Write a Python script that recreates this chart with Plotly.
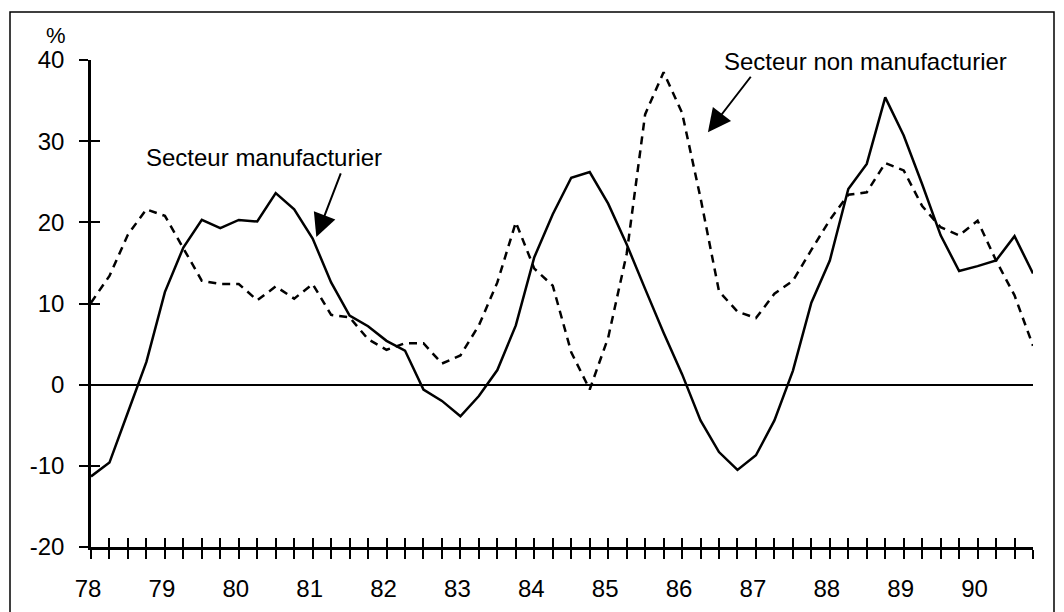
import plotly.graph_objects as go

# quarterly observations, 1978Q1 .. 1990Q4
quarters = [78 + q / 4 for q in range(52)]
year_labels = ["78", "79", "80", "81", "82", "83", "84", "85", "86", "87", "88", "89", "90"]

# Secteur manufacturier (solid)
manuf = [-11.3, -9.6, -3.4, 2.8, 11.4, 16.9, 20.3, 19.3, 20.3, 20.1,
         23.6, 21.6, 18.0, 12.6, 8.5, 7.2, 5.4, 4.2, -0.6, -2.0,
         -3.9, -1.4, 1.8, 7.3, 15.7, 21.0, 25.5, 26.2, 22.3, 17.3,
         11.8, 6.4, 1.3, -4.4, -8.3, -10.5, -8.7, -4.4, 1.7, 10.1,
         15.3, 24.1, 27.2, 35.4, 30.7, 24.7, 18.4, 14.0, 14.6, 15.3,
         18.3, 13.7]

# Secteur non manufacturier (dashed)
non_manuf = [10.1, 13.4, 18.5, 21.6, 20.8, 16.8, 12.8, 12.4, 12.4, 10.4,
             12.1, 10.6, 12.4, 8.6, 8.3, 5.6, 4.3, 5.1, 5.1, 2.6,
             3.6, 7.3, 12.6, 20.0, 14.3, 12.2, 4.0, -0.6, 5.8, 16.1,
             33.3, 38.5, 33.5, 23.0, 11.5, 9.0, 8.2, 11.2, 12.8, 16.6,
             20.3, 23.4, 23.7, 27.3, 26.4, 22.0, 19.4, 18.4, 20.2, 15.3,
             11.0, 4.8]

y_ticks = [-20, -10, 0, 10, 20, 30, 40]
y_tick_text = ["-20", "-10", "0", "10", "20", "30", "40"]

tick_text = [year_labels[i // 4] if i % 4 == 0 else "" for i in range(len(quarters))]

FONT = "Arial, Liberation Sans, sans-serif"

# the page adds an 8px body margin, so the plot box is placed 8px up/left
L, T, PW, PH = 83, 52, 942, 487


def px_x(px):
    # page pixel -> paper x
    return (px - 8 - L) / PW


def px_y(px):
    # page pixel -> paper y
    return (T + PH - (px - 8)) / PH


fig = go.Figure()
fig.add_trace(go.Scatter(x=quarters, y=manuf, mode="lines",
                         line=dict(color="black", width=2.5),
                         name="Secteur manufacturier", hoverinfo="skip"))
fig.add_trace(go.Scatter(x=quarters, y=non_manuf, mode="lines",
                         line=dict(color="black", width=2.5, dash="8px,6px"),
                         name="Secteur non manufacturier", hoverinfo="skip"))
# empty trace so the overlay axes (inner half of the crossing ticks) get drawn
fig.add_trace(go.Scatter(x=[], y=[], xaxis="x2", yaxis="y2", showlegend=False))

axis_common = dict(showgrid=False, tickcolor="black", tickwidth=2, ticklen=9)

fig.update_layout(
    width=1064, height=612,
    margin=dict(l=L, r=1064 - L - PW, t=T, b=612 - T - PH),
    paper_bgcolor="white", plot_bgcolor="white",
    showlegend=False,
    font=dict(family=FONT, size=24, color="black"),
    xaxis=dict(range=[78, 90.75], tickmode="array", tickvals=quarters, ticktext=tick_text,
               ticks="outside", showline=True, linecolor="black", linewidth=2.5,
               zeroline=False, ticklabelstandoff=9, ticklabelshift=-3,
               tickfont=dict(size=24), **axis_common),
    yaxis=dict(range=[-20, 40], tickmode="array", tickvals=y_ticks, ticktext=y_tick_text,
               ticks="outside", showline=True, linecolor="black", linewidth=2.5,
               zeroline=True, zerolinecolor="black", zerolinewidth=2,
               ticklabelstandoff=10, tickfont=dict(size=24), **axis_common),
    xaxis2=dict(range=[78, 90.75], overlaying="x", anchor="y2", side="bottom",
                tickmode="array", tickvals=quarters, ticks="inside",
                showticklabels=False, showline=False, zeroline=False, **axis_common),
    yaxis2=dict(range=[-20, 40], overlaying="y", anchor="x2", side="left",
                tickmode="array", tickvals=y_ticks, ticks="inside",
                showticklabels=False, showline=False, zeroline=False, **axis_common),
)

# outer frame
fig.add_shape(type="rect", xref="paper", yref="paper",
              x0=px_x(10), x1=px_x(1054), y0=px_y(640), y1=px_y(12),
              line=dict(color="black", width=1.5))

fig.add_annotation(text="%", xref="paper", yref="paper",
                   x=px_x(56), y=px_y(36), xanchor="center", yanchor="middle",
                   showarrow=False, font=dict(size=22))

fig.add_annotation(text="Secteur manufacturier", xref="paper", yref="paper",
                   x=px_x(264), y=px_y(157), xanchor="center", yanchor="middle",
                   showarrow=False)
fig.add_annotation(text="", x=81.05, y=18.2, ax=25, ay=-65,
                   showarrow=True, arrowhead=2, arrowsize=2.3, arrowwidth=2,
                   arrowcolor="black")

fig.add_annotation(text="Secteur non manufacturier", xref="paper", yref="paper",
                   x=px_x(865), y=px_y(62), xanchor="center", yanchor="middle",
                   showarrow=False)
fig.add_annotation(text="", x=86.35, y=31.1, ax=44, ay=-57,
                   showarrow=True, arrowhead=2, arrowsize=2.3, arrowwidth=2,
                   arrowcolor="black")

fig.write_html("out.html")
